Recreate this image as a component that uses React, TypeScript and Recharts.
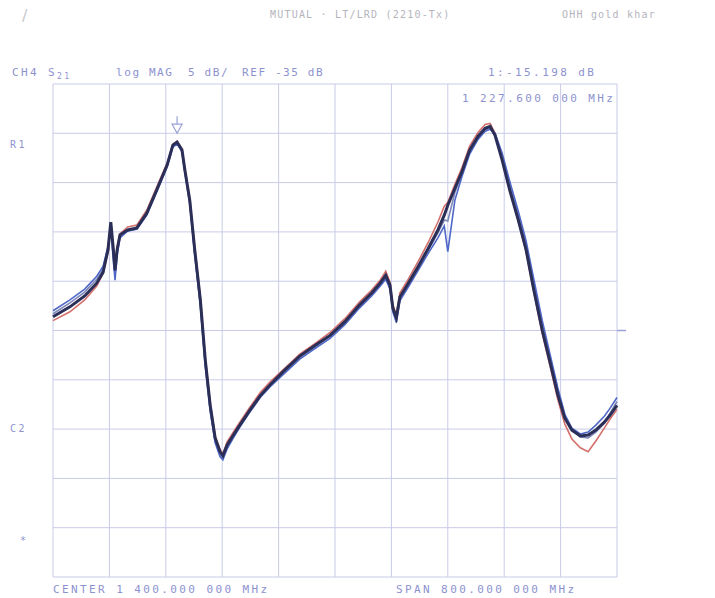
import { LineChart, Line, XAxis, YAxis, CartesianGrid, ReferenceDot } from "recharts"

// sweep points, MHz (center 1400, span 800)
const freq = [
  1000, 1024, 1045, 1062, 1071, 1078, 1082, 1085, 1088, 1091, 1095, 1106, 1119, 1133, 1148, 1162,
  1170, 1176, 1183, 1187, 1194, 1201, 1209, 1216, 1223, 1230, 1237, 1241, 1247, 1255, 1265, 1279,
  1294, 1308, 1329, 1350, 1372, 1393, 1414, 1435, 1452, 1464, 1472, 1478, 1482, 1487, 1492, 1504,
  1518, 1532, 1546, 1555, 1560, 1570, 1580, 1591, 1603, 1613, 1620, 1627, 1637, 1648, 1660, 1671,
  1682, 1694, 1705, 1716, 1726, 1736, 1748, 1759, 1770, 1782, 1790, 1800,
]

// S21 log mag, dB — four overlaid sweeps
const navy = [
  -33.6, -32.6, -31.5, -30.2, -29.1, -26.8, -24.0, -26.3, -28.9, -26.8, -25.3, -24.8, -24.6, -23.1, -20.6, -18.2,
  -16.2, -15.9, -16.7, -18.7, -21.8, -26.8, -31.9, -38.0, -42.6, -45.9, -47.3, -47.7, -46.6, -45.7, -44.6, -43.1,
  -41.6, -40.5, -39.0, -37.6, -36.5, -35.5, -34.1, -32.4, -31.2, -30.2, -29.4, -30.4, -32.7, -33.7, -31.6, -30.2,
  -28.5, -26.7, -24.8, -23.3, -22.3, -20.6, -18.9, -16.7, -15.3, -14.5, -14.3, -15.2, -17.7, -20.8, -23.8, -26.8,
  -30.9, -35.0, -38.2, -41.5, -43.9, -45.1, -45.7, -45.6, -45.1, -44.3, -43.6, -42.6,
]
const blue = [
  -33.0, -31.9, -30.8, -29.5, -28.5, -26.5, -24.6, -27.4, -29.9, -27.3, -25.6, -24.9, -24.7, -23.3, -20.8, -18.4,
  -16.4, -16.1, -16.8, -18.9, -22.0, -27.2, -32.4, -38.6, -43.2, -46.4, -47.8, -48.1, -47.0, -46.0, -44.8, -43.3,
  -41.8, -40.7, -39.3, -37.9, -36.8, -35.8, -34.4, -32.7, -31.5, -30.5, -29.8, -30.8, -33.1, -34.2, -32.0, -30.6,
  -28.9, -27.2, -25.6, -24.4, -27.0, -21.8, -19.4, -17.1, -15.6, -14.8, -14.6, -15.0, -17.0, -19.9, -22.9, -25.9,
  -29.8, -34.0, -37.4, -40.8, -43.5, -44.9, -45.5, -45.3, -44.6, -43.7, -42.9, -41.8,
]
const red = [
  -34.0, -33.1, -31.9, -30.5, -29.2, -27.1, -24.8, -26.1, -28.4, -26.5, -25.2, -24.5, -24.3, -22.8, -20.3, -18.0,
  -16.1, -15.8, -16.6, -18.6, -21.6, -26.5, -31.6, -37.7, -42.3, -45.7, -47.1, -47.5, -46.3, -45.4, -44.3, -42.8,
  -41.3, -40.2, -38.8, -37.4, -36.3, -35.2, -33.8, -32.1, -30.9, -29.9, -29.0, -30.1, -32.4, -33.4, -31.2, -29.8,
  -28.0, -26.1, -24.0, -22.4, -22.0, -20.2, -18.5, -16.3, -14.9, -14.1, -14.0, -15.0, -17.6, -20.8, -23.9, -27.0,
  -31.1, -35.3, -38.6, -42.0, -44.5, -46.0, -46.9, -47.3, -46.2, -44.9, -44.0, -43.0,
]
const slate = [
  -33.3, -32.2, -31.1, -29.8, -28.8, -26.6, -24.3, -26.8, -29.3, -27.0, -25.4, -24.9, -24.7, -23.2, -20.7, -18.3,
  -16.3, -16.0, -16.9, -19.0, -22.2, -27.3, -32.5, -38.5, -43.0, -46.2, -47.6, -48.0, -46.9, -45.9, -44.7, -43.2,
  -41.7, -40.6, -39.1, -37.7, -36.6, -35.6, -34.2, -32.5, -31.3, -30.3, -29.6, -30.6, -32.9, -33.9, -31.8, -30.4,
  -28.7, -26.9, -25.1, -23.8, -23.9, -21.0, -19.1, -16.9, -15.5, -14.7, -14.5, -15.1, -17.3, -20.3, -23.3, -26.3,
  -30.3, -34.4, -37.8, -41.1, -43.7, -45.0, -45.8, -45.9, -45.3, -44.4, -43.4, -42.2,
]

const freqTicks = [1000, 1080, 1160, 1240, 1320, 1400, 1480, 1560, 1640, 1720, 1800]
const dbTicks = [-60, -55, -50, -45, -40, -35, -30, -25, -20, -15, -10]

const marker = { f: 1176, db: -15.9 }
const refLevel = -35

const rows = freq.map((f, i) => ({ f, navy: navy[i], blue: blue[i], red: red[i], slate: slate[i] }))

const ink = "#8d92cf"
const mono = "'DejaVu Sans Mono', monospace"

function Label({ x, y, children, size = 11, color = ink, spacing = 2.4, font = mono }: any) {
  return (
    <div
      style={{
        position: "absolute",
        left: x,
        top: y,
        fontFamily: font,
        fontSize: size,
        letterSpacing: spacing,
        color,
        whiteSpace: "nowrap",
        lineHeight: 1,
      }}
    >
      {children}
    </div>
  )
}

const MarkerShape = (props: any) => {
  const { cx, cy } = props
  return (
    <g stroke="#9aa0d6" strokeWidth={1.2} fill="none">
      <line x1={cx} y1={cy - 26} x2={cx} y2={cy - 18} />
      <path d={`M${cx - 5},${cy - 18} L${cx + 5},${cy - 18} L${cx},${cy - 9} Z`} />
    </g>
  )
}

const RefTick = (props: any) => {
  const { cx, cy } = props
  return <line x1={cx} y1={cy} x2={cx + 9} y2={cy} stroke="#9aa0d6" strokeWidth={1.5} />
}

export default function App() {
  return (
    <div style={{ position: "absolute", left: 0, top: 0, width: 715, height: 598, background: "#ffffff" }}>
      <LineChart width={715} height={598} data={rows} margin={{ top: 84, right: 98, bottom: 21, left: 53 }}>
        <CartesianGrid stroke="#c9cbe7" strokeWidth={1} />
        <XAxis dataKey="f" type="number" domain={[1000, 1800]} ticks={freqTicks} hide />
        <YAxis type="number" domain={[-60, -10]} ticks={dbTicks} hide />
        <Line type="linear" dataKey="slate" stroke="#7e86b8" strokeWidth={1.6} dot={false} isAnimationActive={false} />
        <Line type="linear" dataKey="red" stroke="#d4706c" strokeWidth={1.6} dot={false} isAnimationActive={false} />
        <Line type="linear" dataKey="blue" stroke="#4f68c8" strokeWidth={1.6} dot={false} isAnimationActive={false} />
        <Line type="linear" dataKey="navy" stroke="#2b2f57" strokeWidth={3} dot={false} isAnimationActive={false} />
        <ReferenceDot x={marker.f} y={marker.db} shape={MarkerShape} />
        <ReferenceDot x={1800} y={refLevel} shape={RefTick} />
      </LineChart>

      <Label x={22} y={8} size={16} color="#c8c8cc" spacing={0} font="'DejaVu Sans', sans-serif">/</Label>
      <Label x={270} y={10} size={10} color="#b4b4bc" spacing={1.2}>MUTUAL · LT/LRD (2210-Tx)</Label>
      <Label x={562} y={10} size={10} color="#b4b4bc" spacing={1.2}>OHH gold khar</Label>

      <Label x={12} y={67}>CH4</Label>
      <Label x={48} y={67}>S<sub style={{ fontSize: 8 }}>21</sub></Label>
      <Label x={116} y={67} spacing={1.6}>log MAG</Label>
      <Label x={188} y={67} spacing={1.6}>5 dB/</Label>
      <Label x={242} y={67} spacing={1.6}>REF -35 dB</Label>
      <Label x={488} y={67}>1:-15.198 dB</Label>
      <Label x={462} y={93}>1 227.600 000 MHz</Label>

      <Label x={10} y={140} size={10}>R1</Label>
      <Label x={10} y={424} size={10}>C2</Label>
      <Label x={20} y={536} size={10}>*</Label>

      <Label x={53} y={584}>CENTER 1 400.000 000 MHz</Label>
      <Label x={396} y={584}>SPAN 800.000 000 MHz</Label>
    </div>
  )
}
